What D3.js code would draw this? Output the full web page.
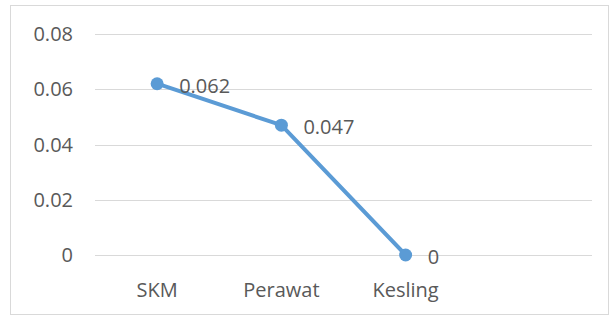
<!DOCTYPE html>
<html>
<head>
<meta charset="utf-8">
<script src="https://cdn.jsdelivr.net/npm/d3@7"></script>
<style>
  body { margin: 0; background: #fff; }
  text { font-family: "Open Sans", sans-serif; fill: #595959; }
</style>
</head>
<body>
<div class="chart"></div>
<script>
// data
const categories = ["SKM", "Perawat", "Kesling"];
const values = [0.062, 0.047, 0];
const labels = ["0.062", "0.047", "0"];
const yTicks = [0, 0.02, 0.04, 0.06, 0.08];
const yTickLabels = ["0", "0.02", "0.04", "0.06", "0.08"];

const width = 610, height = 316;
const plotLeft = 95, plotRight = 592, plotTop = 34, plotBottom = 255;
const slot = (plotRight - plotLeft) / 4; // excel keeps an empty 4th slot
const fontSize = 20;

let svg = d3.select(".chart").append("svg")
    .attr("width", width)
    .attr("height", height);

// cadre
svg.append("rect")
    .attr("x", 10.5).attr("y", 5.5)
    .attr("width", 598).attr("height", 309)
    .attr("fill", "#fff")
    .attr("stroke", "#d9d9d9");

let x = d3.scaleBand()
    .domain(categories)
    .range([plotLeft, plotLeft + slot * categories.length]);

let y = d3.scaleLinear()
    .domain([0, 0.08])
    .range([plotBottom, plotTop]);

// grille
svg.append("g").selectAll("line")
    .data(yTicks)
    .join("line")
    .attr("x1", plotLeft).attr("x2", plotRight)
    .attr("y1", d => Math.round(y(d)) + 0.5)
    .attr("y2", d => Math.round(y(d)) + 0.5)
    .attr("stroke", "#d9d9d9")
    .attr("stroke-width", 1);

// axe Y
svg.append("g").selectAll("text")
    .data(yTicks)
    .join("text")
    .attr("x", 73)
    .attr("y", d => y(d))
    .attr("dy", "0.36em")
    .attr("text-anchor", "end")
    .attr("font-size", fontSize)
    .text((d, i) => yTickLabels[i]);

// axe X
svg.append("g").selectAll("text")
    .data(categories)
    .join("text")
    .attr("x", d => x(d) + x.bandwidth() / 2)
    .attr("y", 297)
    .attr("text-anchor", "middle")
    .attr("font-size", fontSize)
    .text(d => d);

// ligne
let line = d3.line()
    .x((d, i) => x(categories[i]) + x.bandwidth() / 2)
    .y(d => y(d));

svg.append("path")
    .datum(values)
    .attr("d", line)
    .attr("fill", "none")
    .attr("stroke", "#5b9bd5")
    .attr("stroke-width", 4)
    .attr("stroke-linejoin", "round");

svg.append("g").selectAll("circle")
    .data(values)
    .join("circle")
    .attr("cx", (d, i) => x(categories[i]) + x.bandwidth() / 2)
    .attr("cy", d => y(d))
    .attr("r", 6.5)
    .attr("fill", "#5b9bd5");

// étiquettes
svg.append("g").selectAll("text")
    .data(values)
    .join("text")
    .attr("x", (d, i) => x(categories[i]) + x.bandwidth() / 2 + 22)
    .attr("y", d => y(d) + 2)
    .attr("dy", "0.36em")
    .attr("font-size", fontSize)
    .text((d, i) => labels[i]);
</script>
</body>
</html>
